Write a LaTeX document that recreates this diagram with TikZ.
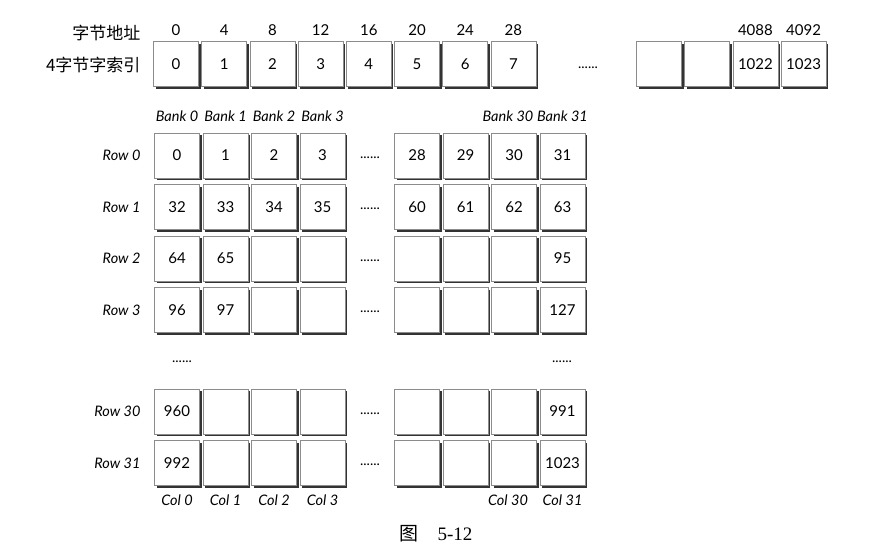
\documentclass[tikz,border=0pt]{standalone}
\usepackage{fontspec}
\setmainfont{Lato}
\newfontfamily\cjk{Noto Sans CJK SC}
\newfontfamily\capfont{Liberation Serif}
\usepackage{tikz}
\usetikzlibrary{shadows}

\tikzset{
  cell/.style={draw=black!45, line width=0.8pt, fill=white, minimum width=45pt, minimum height=45pt, inner sep=0pt,
    font=\fontsize{15}{15}\selectfont, drop shadow={shadow xshift=2pt, shadow yshift=-2pt, opacity=1, fill=black!80}},
  lbl/.style={font=\fontsize{14.5}{14.5}\selectfont\itshape},
  dots/.style={font=\fontsize{14}{14}\selectfont},
  head/.style={anchor=east, font=\cjk\fontsize{17}{17}\selectfont},
}

\begin{document}
\begin{tikzpicture}[x=1pt, y=-1pt]
\fill[white] (0,0) rectangle (881,557);
% byte addresses and word index
\node[head] (addr) at (144,33) {字节地址};
\node[head] (idx) at (144,65) {4字节字索引};
\foreach \i/\a in {0/0,1/4,2/8,3/12,4/16,5/20,6/24,7/28} {
  \node[cell] (w\i) at (176+48.2*\i,64) {\i};
  \node[font=\fontsize{15}{15}\selectfont] (a\i) at (176+48.2*\i,30) {\a};
}
\node[dots] (wdots) at (588,68) {......};
\foreach \j/\t in {0/{},1/{},2/1022,3/1023} \node[cell] (v\j) at (659+48.2*\j,64) {\t};
\node[font=\fontsize{15}{15}\selectfont] (a1022) at (755.4,30) {4088};
\node[font=\fontsize{15}{15}\selectfont] (a1023) at (803.6,30) {4092};
% banks
\foreach \b [count=\k from 0] in {0,1,2,3,28,29,30,31} {
  \pgfmathsetmacro\cx{177+48.5*\k+(\k>3)*46-(\k==6)*6}
  \ifnum\k=4\relax\else\ifnum\k=5\relax\else
    \node[lbl] (bank\b) at (\cx,116) {Bank \b};
    \node[lbl] (col\b) at (\cx,500) {Col \b};
  \fi\fi
}
\foreach \y/\r/\cells in {155.5/0/{0,1,2,3,28,29,30,31}, 207/1/{32,33,34,35,60,61,62,63},
    258.5/2/{64,65,,,,,,95}, 310/3/{96,97,,,,,,127}, 411.5/30/{960,,,,,,,991}, 463/31/{992,,,,,,,1023}} {
  \node[lbl, anchor=east] (row\r) at (144,\y) {Row \r};
  \node[dots] (gd\r) at (370,\y+2) {......};
  \foreach \c [count=\k from 0] in \cells {
    \pgfmathsetmacro\cx{177+48.5*\k+(\k>3)*46}
    \node[cell] (c\r-\k) at (\cx,\y) {\c};
  }
}
\node[dots] (vd0) at (182,362) {......};
\node[dots] (vd31) at (562,362) {......};
% caption
\node[font=\fontsize{19}{19}\selectfont] (fig) at (436,534) {{\cjk 图}\quad{\capfont 5-12}};
\end{tikzpicture}
\end{document}
